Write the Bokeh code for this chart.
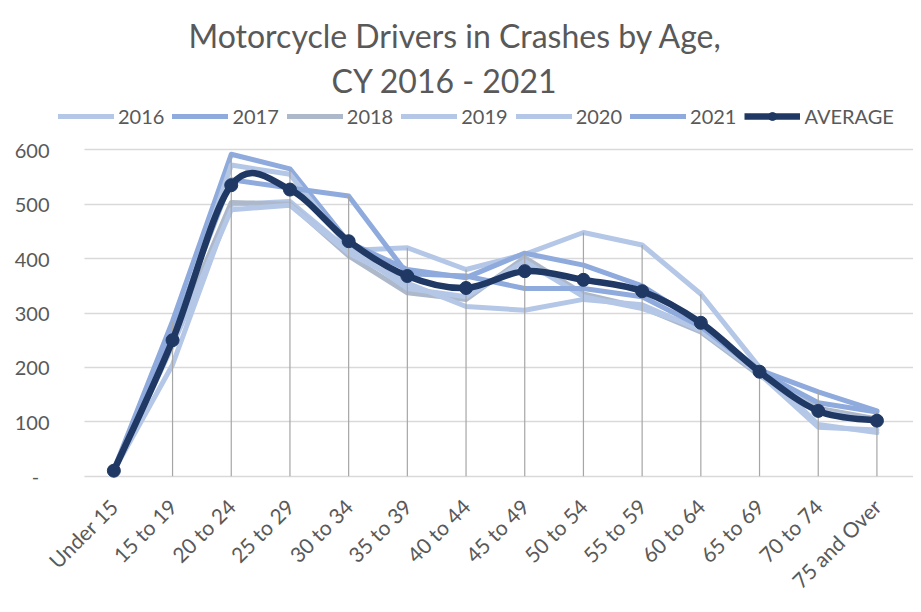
import numpy as np
from bokeh.plotting import figure
from bokeh.models import Range1d, FixedTicker, Legend, LegendItem, Title
from bokeh.embed import file_html
from bokeh.resources import INLINE

categories = ["Under 15", "15 to 19", "20 to 24", "25 to 29", "30 to 34", "35 to 39",
              "40 to 44", "45 to 49", "50 to 54", "55 to 59", "60 to 64", "65 to 69",
              "70 to 74", "75 and Over"]

y2016 = [10, 205, 500, 505, 415, 420, 380, 408, 448, 425, 335, 200, 95, 80]
y2017 = [12, 285, 592, 565, 430, 380, 365, 410, 388, 350, 282, 195, 155, 120]
y2018 = [8, 250, 503, 500, 405, 337, 325, 402, 335, 310, 265, 185, 125, 105]
y2019 = [9, 240, 490, 498, 410, 355, 312, 305, 325, 315, 268, 188, 90, 85]
y2020 = [11, 255, 572, 555, 420, 345, 330, 395, 330, 308, 272, 190, 120, 100]
y2021 = [10, 265, 545, 530, 515, 372, 368, 345, 345, 330, 275, 192, 135, 118]
average = [10, 250, 535, 527, 432, 368, 346, 377, 361, 340, 282, 192, 120, 102]

series_names = ["2016", "2017", "2018", "2019", "2020", "2021"]
series_values = [y2016, y2017, y2018, y2019, y2020, y2021]
series_colors = ["#b4c7e7", "#8faadc", "#adb9ca", "#b4c7e7", "#b4c7e7", "#8faadc"]
avg_color = "#1f3864"

y_ticks = [0, 100, 200, 300, 400, 500, 600]

FONT = "Lato"
TXT = "#595959"

xs = list(range(len(categories)))

p = figure(width=913, height=604, x_range=Range1d(-0.943, 13.623), y_range=Range1d(-8, 683.4),
           output_backend="svg", toolbar_location=None, title=None,
           min_border_left=58, min_border_right=0, min_border_top=104, min_border_bottom=122)
p.outline_line_color = None
p.background_fill_color = "white"
p.border_fill_color = "white"

# series lines
items = []
for name, vals, col in zip(series_names, series_values, series_colors):
    r = p.line(xs, vals, line_color=col, line_width=5, line_join="round", line_cap="round")
    items.append(LegendItem(label=name, renderers=[r]))

# drop lines from the highest value down to the axis
tops = [max(v) for v in zip(*series_values)]
p.segment(x0=xs, y0=[0] * len(xs), x1=xs, y1=tops, line_color="#a6a6a6", line_width=1.2)

# smoothed average line (Catmull-Rom style bezier through the points)
n = len(xs)
bx0, by0, bx1, by1, c0x, c0y, c1x, c1y = [], [], [], [], [], [], [], []
for i in range(n - 1):
    xa, ya = (xs[i - 1], average[i - 1]) if i > 0 else (xs[i], average[i])
    xb, yb = xs[i], average[i]
    xc, yc = xs[i + 1], average[i + 1]
    xd, yd = (xs[i + 2], average[i + 2]) if i + 2 < n else (xs[i + 1], average[i + 1])
    bx0.append(xb); by0.append(yb); bx1.append(xc); by1.append(yc)
    c0x.append(xb + (xc - xa) / 6); c0y.append(yb + (yc - ya) / 6)
    c1x.append(xc - (xd - xb) / 6); c1y.append(yc - (yd - yb) / 6)
bez = p.bezier(x0=bx0, y0=by0, x1=bx1, y1=by1, cx0=c0x, cy0=c0y, cx1=c1x, cy1=c1y,
               line_color=avg_color, line_width=6.5)
dots = p.scatter(xs, average, marker="circle", size=13, fill_color=avg_color, line_color=avg_color)
items.append(LegendItem(label="AVERAGE", renderers=[bez, dots]))

legend = Legend(items=items, orientation="horizontal", location=(0, 352),
                glyph_width=56, glyph_height=20, label_height=20, label_standoff=4,
                spacing=8, padding=0, margin=0, border_line_color=None,
                background_fill_alpha=0, label_text_font=FONT,
                label_text_font_size="20px", label_text_color=TXT)
p.add_layout(legend, "center")

# axes
p.xaxis.ticker = FixedTicker(ticks=xs)
p.xaxis.major_label_overrides = {i: c for i, c in enumerate(categories)}
p.xaxis.major_label_orientation = np.pi / 4
p.xaxis.major_label_standoff = 16
p.yaxis.ticker = FixedTicker(ticks=y_ticks)
p.yaxis.major_label_overrides = {0: "-\u00a0\u00a0"}
p.yaxis.major_label_standoff = 3
for ax in (p.xaxis, p.yaxis):
    ax.axis_line_color = None
    ax.major_tick_line_color = None
    ax.minor_tick_line_color = None
    ax.major_label_text_font = FONT
    ax.major_label_text_font_size = "20px"
    ax.major_label_text_color = TXT
p.xaxis.major_label_text_font_size = "21px"
p.xgrid.visible = False
p.ygrid.grid_line_color = "#d9d9d9"
p.ygrid.grid_line_width = 1.5
p.ygrid.cross_bounds = (-0.5, 13.623)

# two-line title
p.add_layout(Title(text="CY 2016 - 2021", align="left", text_font=FONT,
                   text_font_size="32px", text_font_style="normal", text_color=TXT,
                   standoff=9, offset=273), "above")
p.add_layout(Title(text="Motorcycle Drivers in Crashes by Age,", align="left", text_font=FONT,
                   text_font_size="32px", text_font_style="normal", text_color=TXT,
                   standoff=-1, offset=130), "above")

open("out.html", "w").write(file_html(p, INLINE))
